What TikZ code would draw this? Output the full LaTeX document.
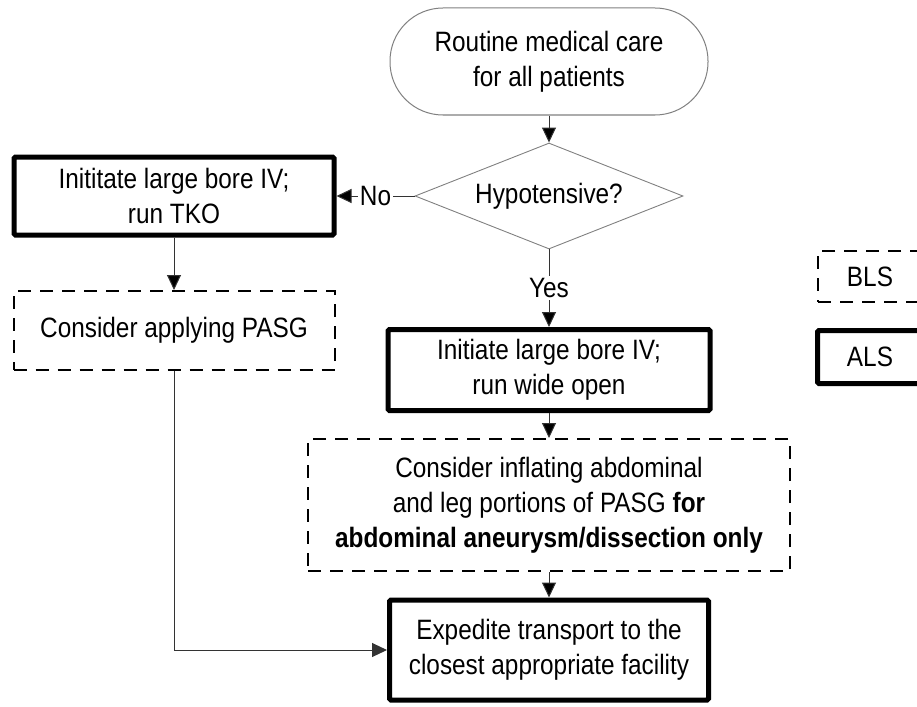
\documentclass[tikz,border=0pt]{standalone}
\usepackage{fontspec}
\setmainfont[FakeStretch=0.87]{Liberation Sans}
\usetikzlibrary{shapes.geometric}
\usetikzlibrary{arrows.meta}

\begin{document}
\begin{tikzpicture}[x=1pt,y=-1pt,
    every node/.style={font=\fontsize{28}{35}\selectfont, align=center, inner sep=0pt},
    term/.style={draw=black!50, line width=1pt, rounded corners=53pt},
    decision/.style={diamond, draw=black!50, line width=0.9pt, aspect=2.5},
    als/.style={draw, line width=5pt, rounded corners=1.5pt},
    bls/.style={draw, line width=2pt, dash pattern=on 13pt off 9pt},
    lbl/.style={fill=white, inner sep=2pt},
    arr/.style={-{Triangle[length=15pt,width=14pt]}, draw=black!80, line width=1pt}]
  \useasboundingbox (0,0) rectangle (917,706);
  \clip (0,0) rectangle (917,706);

  \node[term, minimum width=318pt, minimum height=107pt] (care) at (549,61.5) {Routine medical care\\for all patients};
  \node[decision, minimum width=268pt, minimum height=106pt] (hypo) at (549,196) {Hypotensive?};
  \node[als, minimum width=320pt, minimum height=78pt] (tko) at (174,196) {Inititate large bore IV;\\run TKO};
  \node[bls, minimum width=321pt, minimum height=79pt] (pasg) at (174,330.5) {Consider applying PASG};
  \node[als, minimum width=322pt, minimum height=81pt] (open) at (549,370) {Initiate large bore IV;\\run wide open};
  \node[bls, minimum width=482pt, minimum height=132pt] (inflate) at (549,505) {Consider inflating abdominal\\and leg portions of PASG \textbf{for}\\\textbf{abdominal aneurysm/dissection only}};
  \node[als, minimum width=319pt, minimum height=100pt] (transport) at (549,650) {Expedite transport to the\\closest appropriate facility};

  % key
  \node[bls, minimum width=104pt, minimum height=51pt] (blskey) at (870,276.5) {BLS};
  \node[als, minimum width=105pt, minimum height=53pt] (alskey) at (870,357) {ALS};

  \path[arr]
    (care) edge (hypo)
    (hypo) edge node[lbl] {No} (tko)
           edge node[lbl] {Yes} (open)
    (tko) edge (pasg)
    (open) edge (inflate)
    (inflate) edge (transport);
  \draw[arr] (pasg) |- (transport);
\end{tikzpicture}
\end{document}
